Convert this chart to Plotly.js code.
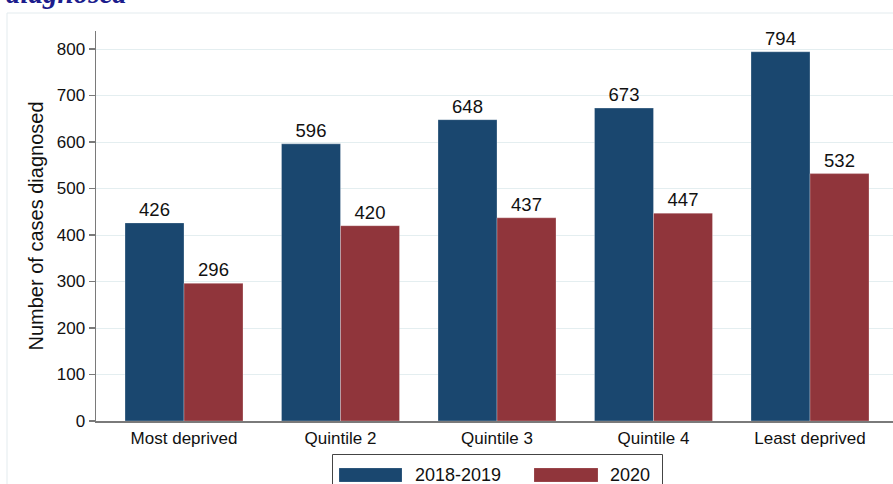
<!DOCTYPE html>
<html>
<head>
<meta charset="utf-8">
<script src="https://cdn.plot.ly/plotly-3.0.1.min.js"></script>
<style>html,body{margin:0;padding:0;background:#fff;}#chart{width:893px;height:484px;}</style>
</head>
<body>
<div id="chart"></div>
<script>
// Data
var categories = ['Most deprived', 'Quintile 2', 'Quintile 3', 'Quintile 4', 'Least deprived'];
var seriesNames = ['2018-2019', '2020'];
var values2018_2019 = [426, 596, 648, 673, 794];
var values2020 = [296, 420, 437, 447, 532];
var yTicks = [0, 100, 200, 300, 400, 500, 600, 700, 800];
var titleText = 'diagnosed';

var colors = ['#1a476f', '#90353b'];

// Pixel helpers for the layout (plot area: x 96..893, y 31..421)
var L = 96, R = 893, T = 31, B = 421;
function px(x) { return (x - L) / (R - L); }
function py(y) { return (B - y) / (B - T); }

var traces = [values2018_2019, values2020].map(function (vals, i) {
  return {
    type: 'bar',
    x: categories,
    y: vals,
    name: seriesNames[i],
    marker: { color: colors[i], line: { color: 'rgba(255,255,255,0.35)', width: 0.8 } },
    text: vals.map(String),
    textposition: 'outside',
    textfont: { family: 'Liberation Sans, Arial, sans-serif', size: 18.5, color: '#111' },
    cliponaxis: false,
    hoverinfo: 'x+y+name',
    showlegend: false
  };
});

var shapes = [
  // faint outer graph-region border
  { type: 'rect', xref: 'paper', yref: 'paper', x0: px(7), x1: 1.2, y0: -0.3, y1: py(13),
    line: { color: '#e3ebee', width: 1 }, fillcolor: 'rgba(0,0,0,0)', layer: 'below' },
  // legend box
  { type: 'rect', xref: 'paper', yref: 'paper', x0: px(332.5), x1: px(662.5), y0: py(500), y1: py(454.5),
    line: { color: '#444', width: 1 }, fillcolor: '#fff' },
  // legend swatches
  { type: 'rect', xref: 'paper', yref: 'paper', x0: px(339), x1: px(402), y0: py(482), y1: py(468),
    line: { color: 'rgba(255,255,255,0.35)', width: 0.5 }, fillcolor: colors[0] },
  { type: 'rect', xref: 'paper', yref: 'paper', x0: px(534), x1: px(598), y0: py(482), y1: py(468),
    line: { color: 'rgba(255,255,255,0.35)', width: 0.5 }, fillcolor: colors[1] }
];

var annotations = [
  { text: seriesNames[0], xref: 'paper', yref: 'paper', x: px(413), y: py(475), xanchor: 'left', yanchor: 'middle',
    showarrow: false, font: { family: 'Liberation Sans, Arial, sans-serif', size: 18, color: '#111' } },
  { text: seriesNames[1], xref: 'paper', yref: 'paper', x: px(608), y: py(475), xanchor: 'left', yanchor: 'middle',
    showarrow: false, font: { family: 'Liberation Sans, Arial, sans-serif', size: 18, color: '#111' } },
  { text: '<b><i>' + titleText + '</i></b>', xref: 'paper', yref: 'paper', x: px(4), y: 1, xanchor: 'left', yanchor: 'bottom',
    yshift: 20, showarrow: false, font: { family: 'Liberation Serif, serif', size: 29, color: '#1c1c8c' } }
];

var layout = {
  width: 893, height: 484,
  margin: { l: L, r: 893 - R, t: T, b: 484 - B, pad: 0 },
  paper_bgcolor: '#fff', plot_bgcolor: '#fff',
  barmode: 'group', bargap: 0.246, bargroupgap: 0,
  font: { family: 'Liberation Sans, Arial, sans-serif', size: 17, color: '#111' },
  xaxis: {
    type: 'category',
    range: [-(184 - L) / 156.5, -(184 - L) / 156.5 + (R - L) / 156.5],
    showline: true, linecolor: '#7a7a7a', linewidth: 1.5,
    ticks: '', showgrid: false, zeroline: false,
    tickfont: { size: 17, color: '#111' },
    ticklabelstandoff: 1
  },
  yaxis: {
    range: [0, (B - T) / 0.465],
    tickvals: yTicks,
    ticktext: yTicks.map(String),
    showline: true, linecolor: '#7a7a7a', linewidth: 1.5,
    ticks: 'outside', ticklen: 6, tickcolor: '#7a7a7a', tickwidth: 1.2,
    showgrid: true, gridcolor: '#e4eef0', gridwidth: 1,
    zeroline: false,
    tickfont: { size: 17, color: '#111' },
    title: { text: 'Number of cases diagnosed', font: { size: 20, color: '#111' }, standoff: 7 }
  },
  shapes: shapes,
  annotations: annotations,
  showlegend: false
};

Plotly.newPlot('chart', traces, layout, { displayModeBar: false, staticPlot: true });
</script>
</body>
</html>
